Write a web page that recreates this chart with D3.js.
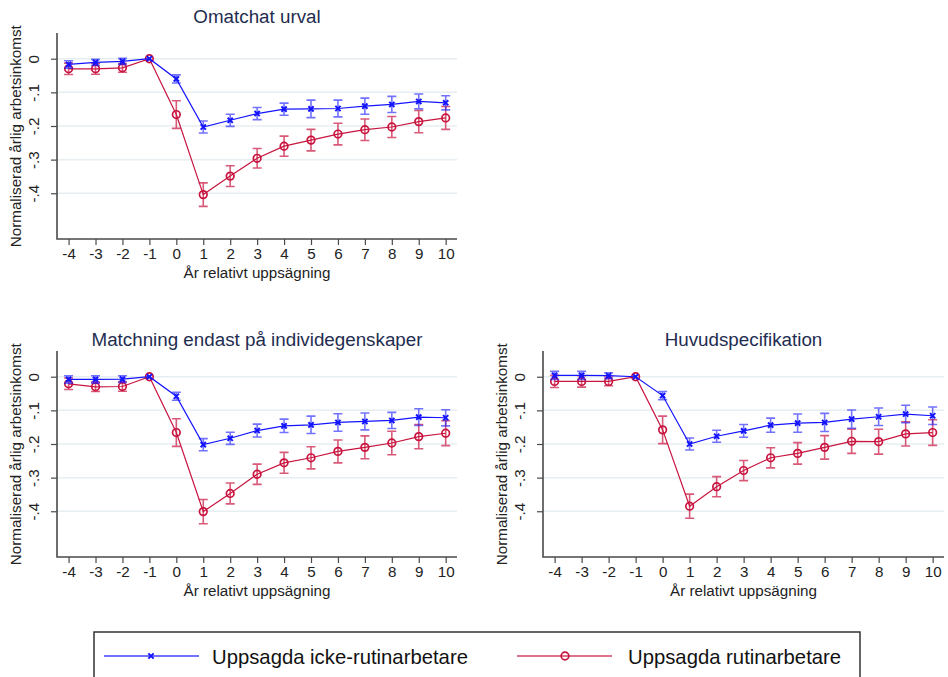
<!DOCTYPE html>
<html>
<head>
<meta charset="utf-8">
<script src="https://cdn.jsdelivr.net/npm/d3@7"></script>
<style>
  html, body { margin: 0; padding: 0; background: #fff; }
  svg { display: block; font-family: "Liberation Sans", Arial, sans-serif; }
</style>
</head>
<body>
<svg id="chart" width="948" height="677"></svg>
<script>
// Years relative to layoff
const years = [-4, -3, -2, -1, 0, 1, 2, 3, 4, 5, 6, 7, 8, 9, 10];
const yTicks = [0, -0.1, -0.2, -0.3, -0.4];
const yTickLabels = ["0", "-.1", "-.2", "-.3", "-.4"];

const panelTitles = ["Omatchat urval", "Matchning endast på individegenskaper", "Huvudspecifikation"];
const seriesNames = ["Uppsagda icke-rutinarbetare", "Uppsagda rutinarbetare"];
const xTitle = "År relativt uppsägning";
const yTitle = "Normaliserad årlig arbetsinkomst";

// Panel 1: Omatchat urval
const p1NonRoutine   = [-0.017, -0.011, -0.008, 0, -0.060, -0.203, -0.183, -0.163, -0.150, -0.149, -0.148, -0.141, -0.136, -0.127, -0.131];
const p1NonRoutineCI = [0.011, 0.009, 0.009, 0, 0.012, 0.018, 0.018, 0.018, 0.018, 0.026, 0.025, 0.024, 0.024, 0.022, 0.021];
const p1Routine      = [-0.030, -0.030, -0.027, 0, -0.166, -0.404, -0.349, -0.296, -0.260, -0.242, -0.224, -0.211, -0.203, -0.187, -0.176];
const p1RoutineCI    = [0.017, 0.016, 0.013, 0, 0.041, 0.035, 0.031, 0.029, 0.030, 0.032, 0.032, 0.032, 0.031, 0.033, 0.034];

// Panel 2: Matchning endast på individegenskaper
const p2NonRoutine   = [-0.008, -0.008, -0.007, 0, -0.058, -0.202, -0.183, -0.160, -0.146, -0.143, -0.136, -0.133, -0.130, -0.120, -0.122];
const p2NonRoutineCI = [0.011, 0.011, 0.010, 0, 0.012, 0.018, 0.018, 0.019, 0.020, 0.026, 0.026, 0.025, 0.024, 0.025, 0.024];
const p2Routine      = [-0.021, -0.030, -0.029, 0, -0.166, -0.401, -0.347, -0.290, -0.256, -0.241, -0.222, -0.210, -0.197, -0.178, -0.168];
const p2RoutineCI    = [0.017, 0.014, 0.014, 0, 0.041, 0.036, 0.031, 0.030, 0.031, 0.033, 0.034, 0.034, 0.035, 0.036, 0.037];

// Panel 3: Huvudspecifikation
const p3NonRoutine   = [0.004, 0.004, 0.003, 0, -0.056, -0.200, -0.177, -0.161, -0.144, -0.138, -0.136, -0.126, -0.119, -0.111, -0.116];
const p3NonRoutineCI = [0.012, 0.012, 0.009, 0, 0.012, 0.018, 0.018, 0.019, 0.021, 0.027, 0.027, 0.027, 0.026, 0.026, 0.026];
const p3Routine      = [-0.014, -0.014, -0.014, 0, -0.158, -0.385, -0.327, -0.279, -0.241, -0.228, -0.210, -0.192, -0.193, -0.170, -0.166];
const p3RoutineCI    = [0.018, 0.017, 0.013, 0, 0.041, 0.036, 0.030, 0.030, 0.030, 0.032, 0.035, 0.036, 0.037, 0.036, 0.038];

const panelData = [
  { nonRoutine: p1NonRoutine, nonRoutineCI: p1NonRoutineCI, routine: p1Routine, routineCI: p1RoutineCI },
  { nonRoutine: p2NonRoutine, nonRoutineCI: p2NonRoutineCI, routine: p2Routine, routineCI: p2RoutineCI },
  { nonRoutine: p3NonRoutine, nonRoutineCI: p3NonRoutineCI, routine: p3Routine, routineCI: p3RoutineCI }
];

// Layout of the three plot regions
const panelBoxes = [
  { x0: 57,  x1: 457, y0: 33.5,  y1: 239,  titleY: 23 },
  { x0: 57,  x1: 457, y0: 351.5, y1: 557,  titleY: 345.5 },
  { x0: 543, x1: 944, y0: 351.5, y1: 557,  titleY: 345.5 }
];

const BLUE = "#1414ff";
const RED = "#c8143f";
const TITLE_COLOR = "#1f2d50";
const AXIS_COLOR = "#4a4a4a";
const GRID_COLOR = "#e7eef1";
const LABEL_SIZE = 15.2;

const svg = d3.select("#chart");

function drawPanel(i) {
  const box = panelBoxes[i];
  const d = panelData[i];
  const g = svg.append("g");

  const x = d3.scaleLinear().domain([-4.43, 10.42]).range([box.x0, box.x1]);
  const y = d3.scaleLinear().domain([0.075, -0.536]).range([box.y0, box.y1]);

  // Grid lines
  g.append("g").selectAll("line").data(yTicks).join("line")
    .attr("x1", box.x0).attr("x2", box.x1)
    .attr("y1", v => y(v)).attr("y2", v => y(v))
    .attr("stroke", GRID_COLOR).attr("stroke-width", 1.5);

  // Y axis
  const yAxis = d3.axisLeft(y).tickValues(yTicks).tickSize(6)
    .tickFormat((v, k) => yTickLabels[k]);
  const ya = g.append("g").attr("transform", `translate(${box.x0},0)`).call(yAxis);
  ya.select(".domain").remove();
  ya.selectAll(".tick line").attr("stroke", AXIS_COLOR).attr("stroke-width", 1.2);
  ya.selectAll(".tick text")
    .attr("x", null).attr("dy", null)
    .attr("transform", "translate(-18.5,0) rotate(-90)")
    .attr("text-anchor", "middle")
    .attr("fill", "#222").attr("font-size", LABEL_SIZE);

  // X axis
  const xAxis = d3.axisBottom(x).tickValues(years).tickSize(6).tickFormat(d3.format("d"));
  const xa = g.append("g").attr("transform", `translate(0,${box.y1})`).call(xAxis);
  xa.select(".domain").remove();
  xa.selectAll(".tick line").attr("stroke", AXIS_COLOR).attr("stroke-width", 1.2);
  xa.selectAll(".tick text").attr("y", 9).attr("dy", "0.71em")
    .attr("fill", "#222").attr("font-size", LABEL_SIZE)
    .text(v => (v < 0 ? "-" + Math.abs(v) : String(v)));

  // Axis lines
  g.append("path")
    .attr("d", `M${box.x0},${box.y0 - 0.5}V${box.y1}H${box.x1}`)
    .attr("fill", "none").attr("stroke", AXIS_COLOR).attr("stroke-width", 1.6);

  // Titles
  g.append("text").attr("x", (box.x0 + box.x1) / 2).attr("y", box.titleY)
    .attr("text-anchor", "middle").attr("font-size", 18.8).attr("fill", TITLE_COLOR)
    .text(panelTitles[i]);
  g.append("text").attr("x", (box.x0 + box.x1) / 2).attr("y", box.y1 + 39)
    .attr("text-anchor", "middle").attr("font-size", LABEL_SIZE).attr("fill", "#222")
    .text(xTitle);
  g.append("text")
    .attr("transform", `translate(${box.x0 - 36},${(box.y0 + box.y1) / 2}) rotate(-90)`)
    .attr("text-anchor", "middle").attr("font-size", LABEL_SIZE).attr("fill", "#222")
    .text(yTitle);

  const line = d3.line().x((v, k) => x(years[k])).y(v => y(v));
  const capHalf = 4.5;

  function drawSeries(vals, ci, color, barOpacity, marker) {
    const s = g.append("g");
    // Confidence intervals with caps
    years.forEach((yr, k) => {
      if (ci[k] === 0) return;
      const cx = x(yr), lo = y(vals[k] - ci[k]), hi = y(vals[k] + ci[k]);
      s.append("path")
        .attr("d", `M${cx},${hi}V${lo}M${cx - capHalf},${hi}H${cx + capHalf}M${cx - capHalf},${lo}H${cx + capHalf}`)
        .attr("fill", "none").attr("stroke", color).attr("stroke-opacity", barOpacity)
        .attr("stroke-width", 1.6);
    });
    s.append("path").datum(vals).attr("d", line)
      .attr("fill", "none").attr("stroke", color).attr("stroke-width", 1.2);
    years.forEach((yr, k) => marker(s, x(yr), y(vals[k])));
  }

  drawSeries(d.routine, d.routineCI, RED, 0.7, circleMarker);
  drawSeries(d.nonRoutine, d.nonRoutineCI, BLUE, 0.6, crossMarker);
}

function crossMarker(sel, cx, cy) {
  const r = 2.6;
  sel.append("path")
    .attr("d", `M${cx - r},${cy - r}L${cx + r},${cy + r}M${cx - r},${cy + r}L${cx + r},${cy - r}`)
    .attr("stroke", BLUE).attr("stroke-width", 2).attr("fill", "none");
}

function circleMarker(sel, cx, cy) {
  sel.append("circle").attr("cx", cx).attr("cy", cy).attr("r", 3.8)
    .attr("fill", "none").attr("stroke", RED).attr("stroke-width", 1.7);
}

[0, 1, 2].forEach(drawPanel);

// Legend
const lg = svg.append("g");
lg.append("rect").attr("x", 94).attr("y", 632).attr("width", 766).attr("height", 70)
  .attr("fill", "#fff").attr("stroke", "#333").attr("stroke-width", 1.5);
const legendItems = [
  { x1: 104, x2: 199, mx: 151, tx: 212, color: BLUE, marker: crossMarker, name: seriesNames[0] },
  { x1: 517, x2: 612, mx: 565, tx: 628, color: RED, marker: circleMarker, name: seriesNames[1] }
];
legendItems.forEach(it => {
  lg.append("line").attr("x1", it.x1).attr("x2", it.x2).attr("y1", 656).attr("y2", 656)
    .attr("stroke", it.color).attr("stroke-width", 1.4).attr("stroke-opacity", 0.8);
  it.marker(lg, it.mx, 656);
  lg.append("text").attr("x", it.tx).attr("y", 663.5).attr("font-size", 20.3).attr("fill", "#111")
    .text(it.name);
});
</script>
</body>
</html>
